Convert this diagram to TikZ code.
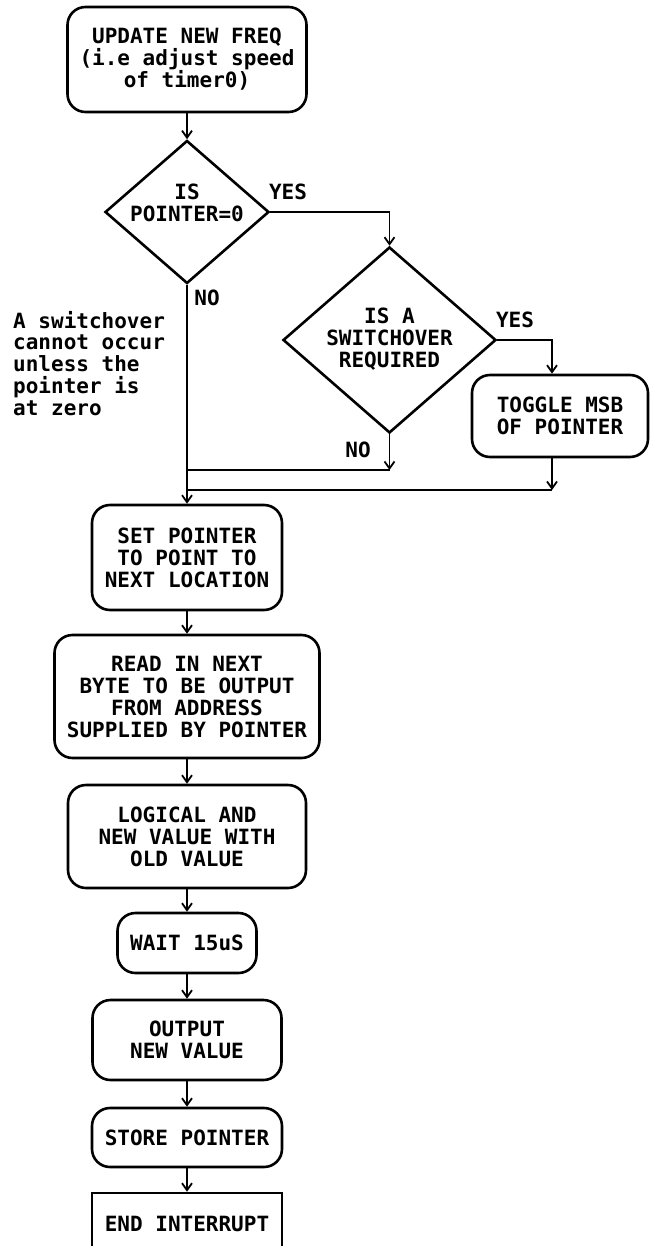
\documentclass[tikz,border=0pt]{standalone}
\usepackage{fontspec}
\newfontfamily\monof{DejaVu Sans Mono}
\usetikzlibrary{shapes.geometric,arrows.meta}
\begin{document}
\begin{tikzpicture}[x=1pt,y=-1pt,
  txt/.style={font=\monof\bfseries\fontsize{21}{22}\selectfont},
  proc/.style={txt, draw, line width=2.6pt, rounded corners=18pt, inner sep=0pt, align=center},
  dec/.style={draw, diamond, line width=2.6pt, inner sep=0pt},
  ln/.style={line width=1.8pt},
  arr/.style={ln, -{Straight Barb[length=7pt,width=10pt]}},
  lbl/.style={txt, inner sep=0pt},
]
\useasboundingbox (0,0) rectangle (651,1246);
\clip (0,0) rectangle (651,1246);
\fill[white] (0,0) rectangle (651,1246);

% nodes
\node[proc, minimum width=239pt, minimum height=105pt] (upd) at (187,59.5) {UPDATE NEW FREQ\\(i.e adjust speed\\of timer0)};
\node[dec, minimum width=164pt, minimum height=143pt] (d1) at (187,212) {};
\node[lbl, align=center] (d1t) at (187,203) {IS\\POINTER=0};
\node[dec, minimum width=213pt, minimum height=186pt] (d2) at (389.5,340) {};
\node[lbl, align=center] (d2t) at (389.5,339) {IS A\\SWITCHOVER\\REQUIRED};
\node[proc, minimum width=176pt, minimum height=82pt] (tog) at (560,416) {TOGGLE MSB\\OF POINTER};
\node[proc, minimum width=190pt, minimum height=105pt] (set) at (187,557.5) {SET POINTER\\TO POINT TO\\NEXT LOCATION};
\node[proc, minimum width=265pt, minimum height=123pt] (read) at (187,696.5) {READ IN NEXT\\BYTE TO BE OUTPUT\\FROM ADDRESS\\SUPPLIED BY POINTER};
\node[proc, minimum width=238pt, minimum height=103pt] (logic) at (187,836.5) {LOGICAL AND\\NEW VALUE WITH\\OLD VALUE};
\node[proc, minimum width=139pt, minimum height=60pt] (wait) at (187,943) {WAIT 15uS};
\node[proc, minimum width=189pt, minimum height=80pt] (out) at (187,1040) {OUTPUT\\NEW VALUE};
\node[proc, minimum width=190pt, minimum height=59pt] (store) at (187,1137.5) {STORE POINTER};
\node[proc, rounded corners=0pt, minimum width=190pt, minimum height=62pt] (endi) at (187,1224) {END INTERRUPT};

% labels
\node[lbl] (yes1) at (288,192) {YES};
\node[lbl] (no1) at (207,298) {NO};
\node[lbl] (yes2) at (515,320) {YES};
\node[lbl] (no2) at (358,450) {NO};
\node[lbl, align=left, anchor=north west, font=\monof\bfseries\fontsize{21}{21.7}\selectfont] (note) at (13,311) {A switchover\\cannot occur\\unless the\\pointer is\\at zero};

% connectors
\coordinate (t1) at (552,340);
\coordinate (j1) at (187,470);
\coordinate (n2) at (389.5,470);
\coordinate (j2) at (187,490);
\coordinate (t2) at (552,490);
\draw[arr] (upd.south) -- (d1.north);
\draw[arr] (d1.east) -| (d2.north);
\draw[arr] (d2.east) -- (t1) -- (t1 |- tog.north);
\draw[arr] (d2.south) -- (n2);
\draw[ln] (n2) -- (j1);
\draw[arr] (t1 |- tog.south) -- (t2);
\draw[ln] (t2) -- (j2);
\draw[arr] (d1.south) -- (set.north);
\draw[arr] (set.south) -- (read.north);
\draw[arr] (read.south) -- (logic.north);
\draw[arr] (logic.south) -- (wait.north);
\draw[arr] (wait.south) -- (out.north);
\draw[arr] (out.south) -- (store.north);
\draw[arr] (store.south) -- (endi.north);
\end{tikzpicture}
\end{document}
